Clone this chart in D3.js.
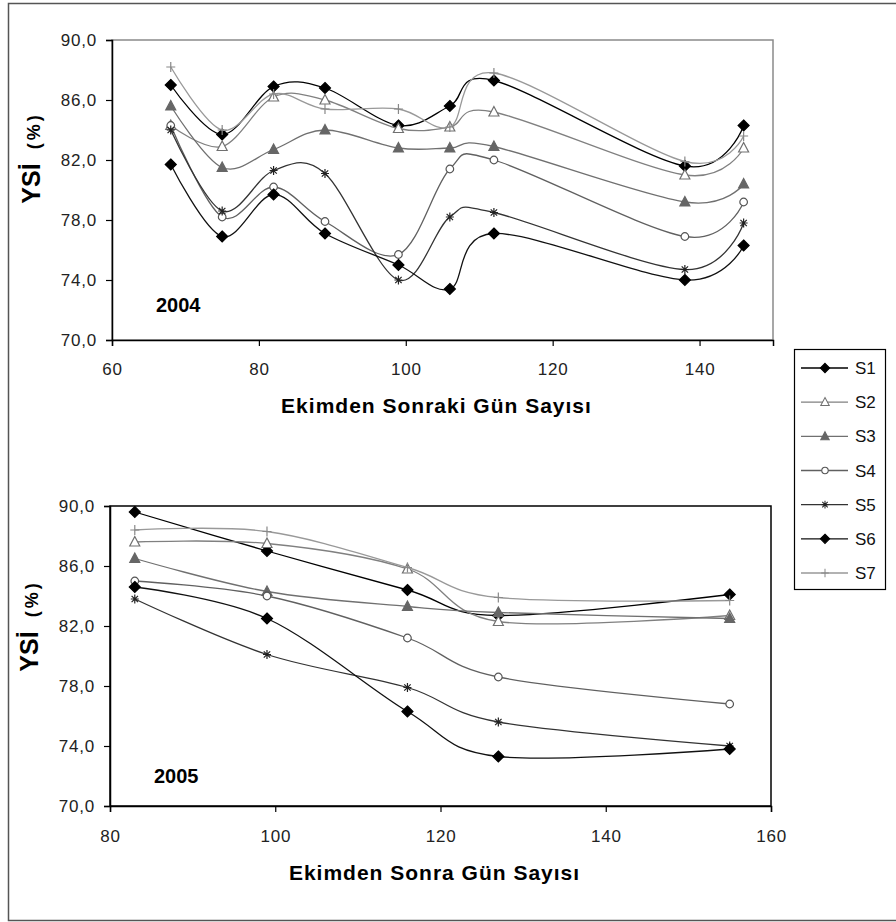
<!DOCTYPE html>
<html>
<head>
<meta charset="utf-8">
<script src="https://cdn.jsdelivr.net/npm/d3@7"></script>
<style>
  body { margin: 0; background: #fff; }
  text { font-family: "Liberation Sans", Arial, sans-serif; }
</style>
</head>
<body>
<div class="chart"></div>
<script>
const w = 896;
const h = 922;

// data
const seriesNames = ["S1", "S2", "S3", "S4", "S5", "S6", "S7"];

const days2004 = [68, 75, 82, 89, 99, 106, 112, 138, 146];
const s1_2004 = [87.0, 83.7, 86.9, 86.8, 84.3, 85.6, 87.3, 81.6, 84.3];
const s2_2004 = [84.3, 82.9, 86.2, 86.0, 84.1, 84.2, 85.2, 81.0, 82.8];
const s3_2004 = [85.6, 81.5, 82.7, 84.0, 82.8, 82.8, 82.9, 79.2, 80.4];
const s4_2004 = [84.3, 78.2, 80.2, 77.9, 75.7, 81.4, 82.0, 76.9, 79.2];
const s5_2004 = [84.0, 78.6, 81.3, 81.1, 74.0, 78.2, 78.5, 74.7, 77.8];
const s6_2004 = [81.7, 76.9, 79.7, 77.1, 75.0, 73.4, 77.1, 74.0, 76.3];
const s7_2004 = [88.2, 84.0, 86.4, 85.4, 85.4, 84.2, 87.8, 81.9, 83.6];

const days2005 = [83, 99, 116, 127, 155];
const s1_2005 = [89.6, 87.0, 84.4, 82.7, 84.1];
const s2_2005 = [87.6, 87.5, 85.8, 82.3, 82.7];
const s3_2005 = [86.5, 84.3, 83.3, 82.9, 82.5];
const s4_2005 = [85.0, 84.0, 81.2, 78.6, 76.8];
const s5_2005 = [83.8, 80.1, 77.9, 75.6, 74.0];
const s6_2005 = [84.6, 82.5, 76.3, 73.3, 73.8];
const s7_2005 = [88.4, 88.3, 85.9, 83.9, 83.7];

const yTicks = [70, 74, 78, 82, 86, 90];
const xTicks2004 = [60, 80, 100, 120, 140];
const xTicks2005 = [80, 100, 120, 140, 160];

// look of each series
const styles = {
  S1: { line: "#000", marker: "diamond", fill: "#000", stroke: "#000" },
  S2: { line: "#808080", marker: "triangle", fill: "#fff", stroke: "#707070" },
  S3: { line: "#707070", marker: "triangle", fill: "#666", stroke: "#666" },
  S4: { line: "#606060", marker: "circle", fill: "#fff", stroke: "#555" },
  S5: { line: "#333", marker: "star", fill: "none", stroke: "#222" },
  S6: { line: "#111", marker: "diamond", fill: "#000", stroke: "#000" },
  S7: { line: "#999", marker: "plus", fill: "none", stroke: "#888" }
};

const markerPath = {
  diamond: "M0,-5.5L5.5,0L0,5.5L-5.5,0Z",
  triangle: "M0,-5.5L5,4L-5,4Z",
  circle: "M3.8,0A3.8,3.8 0 1,1 -3.8,0A3.8,3.8 0 1,1 3.8,0Z",
  star: "M-4,0H4M0,-4.5V4.5M-3.2,-3.2L3.2,3.2M-3.2,3.2L3.2,-3.2",
  plus: "M-4.5,0H4.5M0,-5V5"
};

const svg = d3.select(".chart")
              .append("svg")
              .attr("width", w)
              .attr("height", h);

// outer frame
svg.append("rect")
   .attr("x", 8.5).attr("y", 3.5)
   .attr("width", 900).attr("height", 917)
   .attr("fill", "none")
   .attr("stroke", "#555")
   .attr("stroke-width", 1.5);

const fmt = d => d3.format(".1f")(d).replace(".", ",");

function drawChart(opt) {
  const x = d3.scaleLinear().domain(opt.xDomain).range([opt.left, opt.right]);
  const y = d3.scaleLinear().domain([70, 90]).range([opt.bottom, opt.top]);
  const g = svg.append("g");

  // plot area border
  g.append("rect")
   .attr("x", opt.left).attr("y", opt.top)
   .attr("width", opt.right - opt.left)
   .attr("height", opt.bottom - opt.top)
   .attr("fill", "#fff")
   .attr("stroke", opt.frame)
   .attr("stroke-width", 1.5);

  const xAxis = d3.axisBottom(x).tickValues(opt.xTicks).tickSize(6).tickFormat(d => d);
  const yAxis = d3.axisLeft(y).tickValues(yTicks).tickSize(6).tickFormat(fmt);

  const gx = g.append("g")
     .attr("transform", "translate(0," + opt.bottom + ")")
     .call(xAxis);
  const gy = g.append("g")
     .attr("transform", "translate(" + opt.left + ",0)")
     .call(yAxis);
  [gx, gy].forEach(a => {
    a.select(".domain").attr("stroke", "#000").attr("stroke-width", 1.5);
    a.selectAll(".tick line").attr("stroke", "#000").attr("stroke-width", 1.2);
    a.selectAll("text")
     .attr("font-size", 17)
     .attr("fill", "#222")
     .attr("letter-spacing", 0.8)
     .style("font-family", "'Liberation Sans', Arial, sans-serif");
  });
  gx.selectAll("text").attr("dy", null).attr("y", opt.xLabelY - opt.bottom);
  gy.selectAll("text").attr("x", -15);

  const line = d3.line()
                 .x(d => x(d[0]))
                 .y(d => y(d[1]))
                 .curve(d3.curveCardinal.tension(0));

  opt.series.forEach((vals, i) => {
    const st = styles[seriesNames[i]];
    const pts = opt.days.map((d, j) => [d, vals[j]]);
    g.append("path")
     .attr("d", line(pts))
     .attr("fill", "none")
     .attr("stroke", st.line)
     .attr("stroke-width", 1.3);
    g.selectAll(null)
     .data(pts)
     .enter()
     .append("path")
     .attr("transform", d => "translate(" + x(d[0]) + "," + y(d[1]) + ")")
     .attr("d", markerPath[st.marker])
     .attr("fill", st.fill)
     .attr("stroke", st.stroke)
     .attr("stroke-width", 1.2);
  });

  // year label
  g.append("text")
   .attr("x", opt.left + 44).attr("y", opt.yearY)
   .attr("font-size", 20).attr("font-weight", "bold")
   .text(opt.year);

  // x title
  g.append("text")
   .attr("x", (opt.left + opt.right) / 2 - 6).attr("y", opt.xTitleY)
   .attr("text-anchor", "middle")
   .attr("font-size", 21).attr("font-weight", "bold")
   .attr("letter-spacing", 1)
   .text(opt.xTitle);

  // y title
  const yt = g.append("text")
   .attr("transform", "translate(" + (opt.left - 72) + "," + opt.yTitleY + ") rotate(-90)")
   .attr("text-anchor", "middle");
  yt.append("tspan").attr("font-size", 25).attr("font-weight", "bold").text("YSİ");
  yt.append("tspan").attr("font-size", 18).attr("font-weight", "bold")
    .attr("dx", 14).attr("letter-spacing", 3).text("(%)");
}

drawChart({
  xDomain: [60, 150], xTicks: xTicks2004,
  left: 112, right: 773, top: 40, bottom: 340,
  frame: "#8a8a8a",
  days: days2004,
  series: [s1_2004, s2_2004, s3_2004, s4_2004, s5_2004, s6_2004, s7_2004],
  year: "2004", yearY: 312,
  xLabelY: 375, xTitleY: 413, yTitleY: 158,
  xTitle: "Ekimden Sonraki Gün Sayısı"
});

drawChart({
  xDomain: [80, 160], xTicks: xTicks2005,
  left: 110, right: 771, top: 506, bottom: 806,
  frame: "#000",
  days: days2005,
  series: [s1_2005, s2_2005, s3_2005, s4_2005, s5_2005, s6_2005, s7_2005],
  year: "2005", yearY: 783,
  xLabelY: 842, xTitleY: 880, yTitleY: 626,
  xTitle: "Ekimden Sonra Gün Sayısı"
});

// legend
const legend = svg.append("g");
legend.append("rect")
      .attr("x", 794.5).attr("y", 349.5)
      .attr("width", 91).attr("height", 240)
      .attr("fill", "#fff")
      .attr("stroke", "#000")
      .attr("stroke-width", 1.2);

const ly = d3.scalePoint().domain(seriesNames).range([368, 573]);
seriesNames.forEach(name => {
  const st = styles[name];
  const row = legend.append("g").attr("transform", "translate(0," + ly(name) + ")");
  row.append("line")
     .attr("x1", 801).attr("x2", 848)
     .attr("stroke", st.line).attr("stroke-width", 1.3);
  row.append("path")
     .attr("transform", "translate(825,0) scale(0.85)")
     .attr("d", markerPath[st.marker])
     .attr("fill", st.fill)
     .attr("stroke", st.stroke)
     .attr("stroke-width", 1.2);
  row.append("text")
     .attr("x", 855).attr("y", 6)
     .attr("font-size", 17)
     .attr("fill", "#111")
     .text(name);
});
</script>
</body>
</html>
